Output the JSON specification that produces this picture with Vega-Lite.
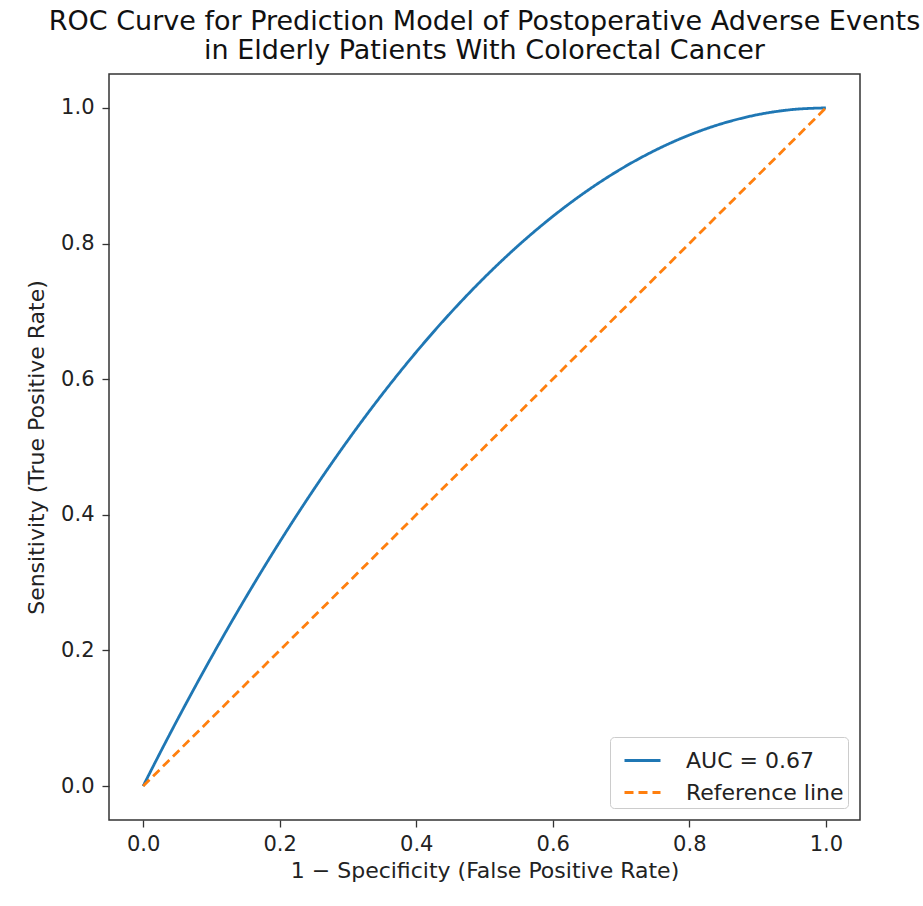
{
  "$schema": "https://vega.github.io/schema/vega-lite/v6.json",
  "width": 751,
  "height": 746,
  "autosize": {"type": "none"},
  "padding": {"left": 109, "top": 74, "right": 63, "bottom": 86},
  "background": "white",
  "title": {
    "text": ["ROC Curve for Prediction Model of Postoperative Adverse Events", "in Elderly Patients With Colorectal Cancer"],
    "font": "DejaVu Sans",
    "fontSize": 27,
    "fontWeight": "normal",
    "color": "#111",
    "anchor": "middle",
    "offset": 9,
    "lineHeight": 29
  },
  "config": {
    "view": {"stroke": "#333", "strokeWidth": 1.5},
    "axis": {
      "labelFont": "DejaVu Sans",
      "titleFont": "DejaVu Sans",
      "labelFontSize": 21,
      "titleFontSize": 22,
      "titleFontWeight": "normal",
      "labelColor": "#222",
      "titleColor": "#222",
      "tickColor": "#333",
      "tickSize": 7,
      "tickWidth": 1.3,
      "domain": false,
      "grid": false
    }
  },
  "data": {
    "values": [
      {"x": 0.0, "y": 0.0, "series": "AUC = 0.67"},
      {"x": 0.025, "y": 0.0494, "series": "AUC = 0.67"},
      {"x": 0.05, "y": 0.0975, "series": "AUC = 0.67"},
      {"x": 0.1, "y": 0.19, "series": "AUC = 0.67"},
      {"x": 0.15, "y": 0.2775, "series": "AUC = 0.67"},
      {"x": 0.2, "y": 0.36, "series": "AUC = 0.67"},
      {"x": 0.25, "y": 0.4375, "series": "AUC = 0.67"},
      {"x": 0.3, "y": 0.51, "series": "AUC = 0.67"},
      {"x": 0.35, "y": 0.5775, "series": "AUC = 0.67"},
      {"x": 0.4, "y": 0.64, "series": "AUC = 0.67"},
      {"x": 0.45, "y": 0.6975, "series": "AUC = 0.67"},
      {"x": 0.5, "y": 0.75, "series": "AUC = 0.67"},
      {"x": 0.55, "y": 0.7975, "series": "AUC = 0.67"},
      {"x": 0.6, "y": 0.84, "series": "AUC = 0.67"},
      {"x": 0.65, "y": 0.8775, "series": "AUC = 0.67"},
      {"x": 0.7, "y": 0.91, "series": "AUC = 0.67"},
      {"x": 0.75, "y": 0.9375, "series": "AUC = 0.67"},
      {"x": 0.8, "y": 0.96, "series": "AUC = 0.67"},
      {"x": 0.85, "y": 0.9775, "series": "AUC = 0.67"},
      {"x": 0.9, "y": 0.99, "series": "AUC = 0.67"},
      {"x": 0.95, "y": 0.9975, "series": "AUC = 0.67"},
      {"x": 1.0, "y": 1.0, "series": "AUC = 0.67"},
      {"x": 0.0, "y": 0.0, "series": "Reference line"},
      {"x": 1.0, "y": 1.0, "series": "Reference line"}
    ]
  },
  "mark": {"type": "line", "strokeWidth": 2.8, "interpolate": "monotone"},
  "encoding": {
    "x": {
      "field": "x", "type": "quantitative",
      "scale": {"domain": [-0.05, 1.05], "nice": false, "zero": false},
      "axis": {"values": [0, 0.2, 0.4, 0.6, 0.8, 1.0], "format": ".1f", "title": "1 − Specificity (False Positive Rate)", "labelPadding": 6, "titlePadding": 6}
    },
    "y": {
      "field": "y", "type": "quantitative",
      "scale": {"domain": [-0.05, 1.05], "nice": false, "zero": false},
      "axis": {"values": [0, 0.2, 0.4, 0.6, 0.8, 1.0], "format": ".1f", "title": "Sensitivity (True Positive Rate)", "labelPadding": 8, "titlePadding": 12}
    },
    "color": {
      "field": "series", "type": "nominal",
      "scale": {"domain": ["AUC = 0.67", "Reference line"], "range": ["#1f77b4", "#ff7f0e"]},
      "legend": {
        "title": null,
        "orient": "bottom-right",
        "offset": 12,
        "fillColor": "white",
        "strokeColor": "#ccc",
        "cornerRadius": 4,
        "padding": 4,
        "symbolOffset": 9,
        "symbolType": "stroke",
        "symbolSize": 1296,
        "symbolStrokeWidth": 2.8,
        "labelFont": "DejaVu Sans",
        "labelFontSize": 22,
        "labelColor": "#222",
        "labelOffset": 24,
        "rowPadding": 1
      }
    },
    "strokeDash": {
      "field": "series", "type": "nominal",
      "scale": {"domain": ["AUC = 0.67", "Reference line"], "range": [[1, 0], [9, 5]]},
      "legend": null
    }
  }
}
